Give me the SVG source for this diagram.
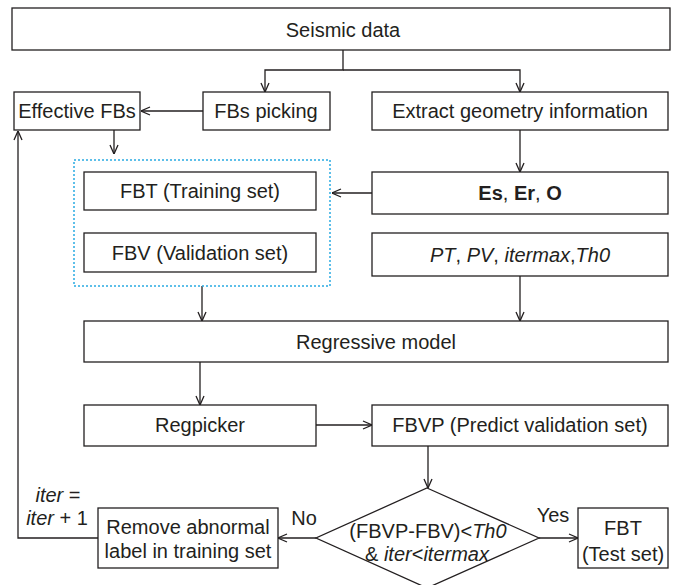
<svg xmlns="http://www.w3.org/2000/svg" width="678" height="585" viewBox="0 0 678 585">
<style>
.b{fill:#fff;stroke:#231f20;stroke-width:1.3}
.t{font-family:"Liberation Sans",Arial,sans-serif;font-size:20px;fill:#231f20;text-anchor:middle}
.c{fill:none;stroke:#231f20;stroke-width:1.3}
.i{font-style:italic}
.w{font-weight:bold}
</style>
<defs>
<marker id="a" viewBox="0 0 10 10" refX="10" refY="5" markerWidth="10" markerHeight="10" markerUnits="userSpaceOnUse" orient="auto">
<path d="M1,1 L10,5 L1,9" fill="none" stroke="#231f20" stroke-width="1.3"/>
</marker>
</defs>
<rect width="678" height="585" fill="#fff"/>
<g id="connectors">
<path class="c" d="M343,50 V70 H265 V92" marker-end="url(#a)"/>
<path class="c" d="M343,70 H520 V92" marker-end="url(#a)"/>
<path class="c" d="M203,111 H141" marker-end="url(#a)"/>
<path class="c" d="M114,130 V154" marker-end="url(#a)"/>
<path class="c" d="M520,130 V172" marker-end="url(#a)"/>
<path class="c" d="M372,193 H332" marker-end="url(#a)"/>
<path class="c" d="M202,286 V321" marker-end="url(#a)"/>
<path class="c" d="M520,276 V321" marker-end="url(#a)"/>
<path class="c" d="M200,362 V405" marker-end="url(#a)"/>
<path class="c" d="M316,425 H372" marker-end="url(#a)"/>
<path class="c" d="M428,446 V488" marker-end="url(#a)"/>
<path class="c" d="M316,538 H278" marker-end="url(#a)"/>
<path class="c" d="M539,538 H578" marker-end="url(#a)"/>
<path class="c" d="M98,538 H18 V131" marker-end="url(#a)"/>
</g>
<g id="seismic"><rect class="b" x="12" y="8" width="658" height="42"/><text class="t" x="343" y="37">Seismic data</text></g>
<g id="effective"><rect class="b" x="14" y="92" width="126" height="38"/><text class="t" x="77" y="118">Effective FBs</text></g>
<g id="picking"><rect class="b" x="203" y="92" width="127" height="38"/><text class="t" x="266" y="118">FBs picking</text></g>
<g id="extract"><rect class="b" x="372" y="92" width="296" height="38"/><text class="t" x="520" y="118">Extract geometry information</text></g>
<g id="datasets"><rect x="74" y="160" width="256" height="126" fill="none" stroke="#29abe2" stroke-width="1.5" stroke-dasharray="2,2"/></g>
<g id="fbt"><rect class="b" x="84" y="172" width="232" height="38"/><text class="t" x="200" y="198">FBT (Training set)</text></g>
<g id="fbv"><rect class="b" x="84" y="233" width="232" height="39"/><text class="t" x="200" y="260">FBV (Validation set)</text></g>
<g id="eseo"><rect class="b" x="372" y="172" width="296" height="42"/><text class="t" x="520" y="200"><tspan class="w">Es</tspan>, <tspan class="w">Er</tspan>, <tspan class="w">O</tspan></text></g>
<g id="params"><rect class="b" x="372" y="233" width="296" height="43"/><text class="t" x="520" y="262"><tspan class="i">PT</tspan>, <tspan class="i">PV</tspan>, <tspan class="i">itermax</tspan>,<tspan class="i">Th0</tspan></text></g>
<g id="model"><rect class="b" x="84" y="321" width="584" height="41"/><text class="t" x="376" y="349">Regressive model</text></g>
<g id="regpicker"><rect class="b" x="84" y="405" width="232" height="41"/><text class="t" x="200" y="432">Regpicker</text></g>
<g id="fbvp"><rect class="b" x="372" y="405" width="296" height="41"/><text class="t" x="520" y="432">FBVP (Predict validation set)</text></g>
<g id="decision"><path class="b" d="M427,488 L539,538 L427,588 L316,538 Z"/><text class="t" x="428" y="538">(FBVP-FBV)&lt;<tspan class="i">Th0</tspan></text><text class="t" x="427" y="561">&amp; <tspan class="i">iter</tspan>&lt;<tspan class="i">itermax</tspan></text></g>
<g id="remove"><rect class="b" x="98" y="508" width="180" height="60"/><text class="t" x="188" y="534">Remove abnormal</text><text class="t" x="188" y="558">label in training set</text></g>
<g id="test"><rect class="b" x="578" y="508" width="90" height="60"/><text class="t" x="623" y="535">FBT</text><text class="t" x="623" y="561">(Test set)</text></g>
<g id="labels">
<text class="t" x="304" y="525">No</text>
<text class="t" x="553" y="522">Yes</text>
<text class="t" x="58" y="502"><tspan class="i">iter</tspan> =</text>
<text class="t" x="57" y="525"><tspan class="i">iter</tspan> + 1</text>
</g>
</svg>
